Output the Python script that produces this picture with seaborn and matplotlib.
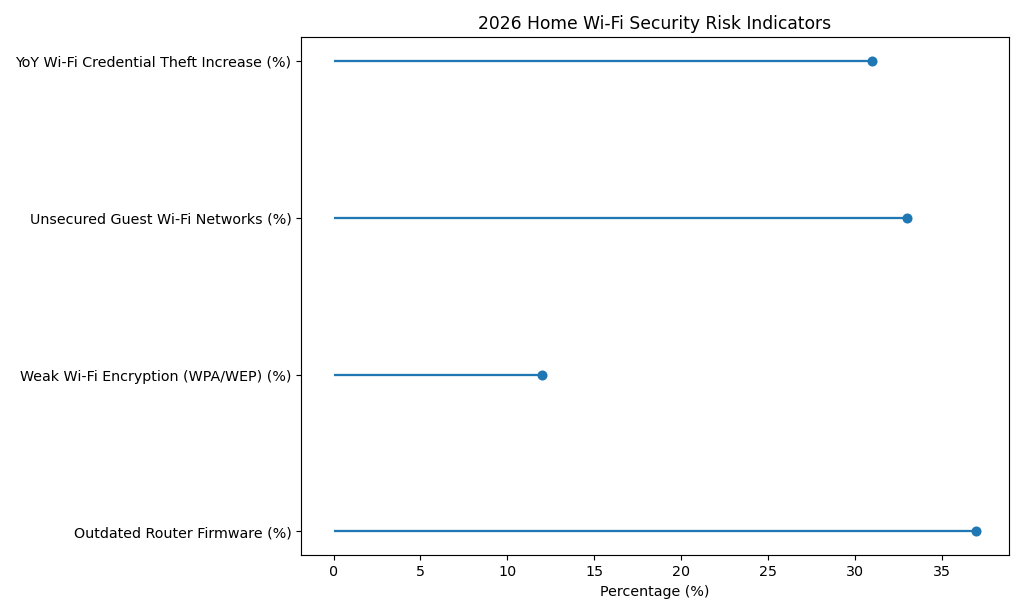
import matplotlib
matplotlib.use("Agg")
import matplotlib.pyplot as plt
import seaborn as sns
import pandas as pd

# data, top to bottom
categories = [
    "YoY Wi-Fi Credential Theft Increase (%)",
    "Unsecured Guest Wi-Fi Networks (%)",
    "Weak Wi-Fi Encryption (WPA/WEP) (%)",
    "Outdated Router Firmware (%)",
]
values = [31, 33, 12, 37]

df = pd.DataFrame({"indicator": categories, "value": values})

plt.style.use("default")
plt.rcParams["font.family"] = ["DejaVu Sans"]

fig, ax = plt.subplots(figsize=(10, 6), dpi=102.4)

# heads (seaborn puts first category on top)
sns.scatterplot(data=df, x="value", y="indicator", ax=ax, color="#1f77b4",
                s=50, edgecolor="#1f77b4", linewidth=0, zorder=3)
# stems
ax.hlines(y=df["indicator"], xmin=0, xmax=df["value"], color="#1f77b4", linewidth=1.6)

ax.set_title("2026 Home Wi-Fi Security Risk Indicators", fontsize=12)
ax.set_xlabel("Percentage (%)", fontsize=10)
ax.set_ylabel("")
ax.tick_params(labelsize=10)

plt.tight_layout()
plt.savefig("out.png")
